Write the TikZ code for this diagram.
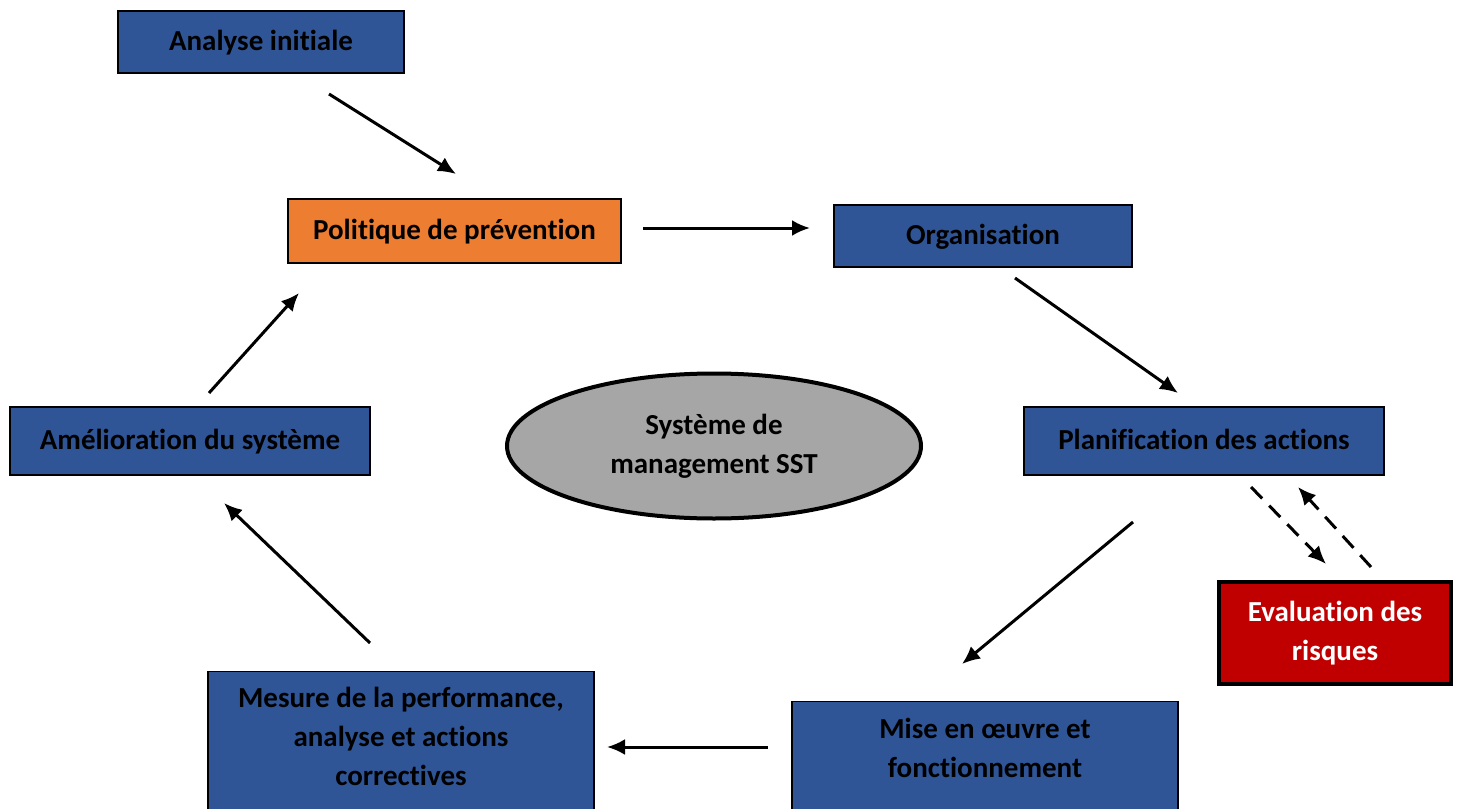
\documentclass[tikz,border=0pt]{standalone}
\usepackage{fontspec}
\setmainfont{Carlito}[Ligatures=NoCommon]
\usetikzlibrary{arrows.meta,shapes.geometric}
\definecolor{sstblue}{HTML}{2F5597}
\definecolor{sstorange}{HTML}{ED7D31}
\definecolor{sstred}{HTML}{C00000}
\definecolor{sstgray}{HTML}{A6A6A6}
\tikzset{
	etape/.style={draw=black, fill=sstblue, line width=0.6pt, align=center,
			font=\fontsize{14.5}{19.5}\selectfont\bfseries, inner sep=0pt},
	uneligne/.style={text height=10.5pt, text depth=2pt},
	fleche/.style={-{Latex[length=9pt,width=8pt]}, line width=1.5pt},
}

\begin{document}
\begin{tikzpicture}[x=0.5pt, y=-0.5pt]
	\useasboundingbox (0,0) rectangle (1458,809);

	\node[etape, uneligne, minimum width=143pt, minimum height=31pt] (analyse) at (261,42) {Analyse initiale};
	\node[etape, uneligne, fill=sstorange, line width=1pt, minimum width=166.5pt, minimum height=32pt] (politique) at (454.5,231) {Politique de prévention};
	\node[etape, uneligne, minimum width=149pt, minimum height=31pt] (organisation) at (983,236) {Organisation};
	\node[etape, uneligne, minimum width=180pt, minimum height=34pt] (planif) at (1204,441) {Planification des actions};
	\node[etape, fill=sstred, text=white, line width=1.6pt, minimum width=116pt, minimum height=51pt] (evaluation) at (1335,633) {Evaluation des\\risques};
	\node[etape, anchor=north, minimum width=193pt, inner ysep=8.5pt, text height=29.5pt, text depth=40pt] (mise) at (985,701) {Mise en œuvre et\\fonctionnement};
	\node[etape, anchor=north, minimum width=193pt, inner ysep=8.5pt, text height=48.5pt, text depth=40pt] (mesure) at (401,671) {Mesure de la performance,\\analyse et actions\\correctives};
	\node[etape, uneligne, minimum width=180pt, minimum height=34pt] (amelioration) at (190,441) {Amélioration du système};
	\node[etape, ellipse, fill=sstgray, line width=2pt, minimum width=207pt, minimum height=72.5pt] (sst) at (714,446) {Système de\\management SST};

	% extremites des fleches
	\coordinate (a1) at (329,94);   \coordinate (a2) at (456,174);
	\coordinate (p1) at (643,228);  \coordinate (p2) at (810,228);
	\coordinate (o1) at (1015,278); \coordinate (o2) at (1178,393);
	\coordinate (l1) at (1133,522); \coordinate (l2) at (962,664);
	\coordinate (m1) at (768,747);  \coordinate (m2) at (607,747);
	\coordinate (r1) at (370,643);  \coordinate (r2) at (224,503);
	\coordinate (s1) at (209,393);  \coordinate (s2) at (299,293);
	\coordinate (e1) at (1251,487); \coordinate (e2) at (1326,564);
	\coordinate (e3) at (1371,567); \coordinate (e4) at (1298,487);

	\draw[fleche] (a1) -- (a2);
	\draw[fleche] (p1) -- (p2);
	\draw[fleche] (o1) -- (o2);
	\draw[fleche] (l1) -- (l2);
	\draw[fleche] (m1) -- (m2);
	\draw[fleche] (r1) -- (r2);
	\draw[fleche] (s1) -- (s2);
	\draw[fleche, dash pattern=on 8pt off 5pt] (e1) -- (e2);
	\draw[fleche, dash pattern=on 8pt off 5pt] (e3) -- (e4);
\end{tikzpicture}
\end{document}
